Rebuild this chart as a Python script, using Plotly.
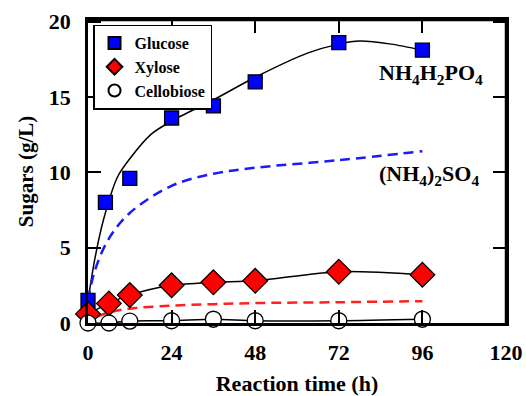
import plotly.graph_objects as go

# Measured data (NH4H2PO4)
t_glu = [0, 5, 12, 24, 36, 48, 72, 96]
glucose = [1.5, 8.0, 9.6, 13.6, 14.4, 16.0, 18.6, 18.1]
t_xyl = [0, 6, 12, 24, 36, 48, 72, 96]
xylose = [0.6, 1.3, 1.85, 2.5, 2.7, 2.8, 3.4, 3.2]
t_cel = [0, 6, 12, 24, 36, 48, 72, 96]
cellobiose = [0.0, 0.0, 0.13, 0.15, 0.25, 0.15, 0.15, 0.25]

# Fitted curve through glucose (NH4H2PO4)
t_glu_fit = [0, 2, 4.5, 8.5, 12, 18, 24, 36, 48, 63, 72, 78, 87, 96]
glucose_fit = [1.5, 4.3, 6.9, 9.7, 10.9, 12.5, 13.4, 14.8, 16.3, 17.9, 18.5, 18.7, 18.5, 18.1]

# Model curves ((NH4)2SO4)
t_as = [0, 2, 6, 12, 24, 36, 48, 72, 96]
glucose_as = [1.5, 3.5, 5.6, 7.3, 9.1, 9.9, 10.3, 10.8, 11.4]
t_as_x = [2.5, 6, 12, 24, 36, 48, 72, 96]
xylose_as = [0.4, 0.7, 0.95, 1.15, 1.25, 1.32, 1.38, 1.45]

x_ticks = [0, 24, 48, 72, 96, 120]
y_ticks = [0, 5, 10, 15, 20]
x_range = [0, 120]
y_range = [0, 20.1]

FONT = "Liberation Serif"

fig = go.Figure()

# top/right frame along the axis ranges
fig.add_trace(go.Scatter(x=[x_range[0], x_range[1], x_range[1]],
                         y=[y_range[1], y_range[1], y_range[0]],
                         mode="lines", showlegend=False, hoverinfo="skip",
                         line=dict(color="black", width=2.5), cliponaxis=False))

fig.add_trace(go.Scatter(x=t_glu_fit, y=glucose_fit, mode="lines", showlegend=False,
                         line=dict(color="black", width=1.5, shape="spline", smoothing=0.8),
                         hoverinfo="skip"))
fig.add_trace(go.Scatter(x=t_xyl, y=xylose, mode="lines", showlegend=False,
                         line=dict(color="black", width=1.5, shape="spline", smoothing=0.8),
                         hoverinfo="skip"))
fig.add_trace(go.Scatter(x=t_cel, y=cellobiose, mode="lines", showlegend=False,
                         line=dict(color="black", width=1.5, shape="spline", smoothing=0.8),
                         hoverinfo="skip", cliponaxis=False))

fig.add_trace(go.Scatter(x=t_as, y=glucose_as, mode="lines", showlegend=False,
                         line=dict(color="#1a1aff", width=2.5, dash="10px,6px", shape="spline")))
fig.add_trace(go.Scatter(x=t_as_x, y=xylose_as, mode="lines", showlegend=False,
                         line=dict(color="#ff2020", width=2.5, dash="10px,6px", shape="spline")))

fig.add_trace(go.Scatter(x=t_glu, y=glucose, mode="markers", name="<b>Glucose</b>",
                         marker=dict(symbol="square", size=14, color="#0000ff",
                                     line=dict(color="black", width=1.3)), cliponaxis=False))
fig.add_trace(go.Scatter(x=t_xyl, y=xylose, mode="markers", name="<b>Xylose</b>",
                         marker=dict(symbol="diamond", size=19, color="#ff0000",
                                     line=dict(color="black", width=1.3)), cliponaxis=False))
fig.add_trace(go.Scatter(x=t_cel, y=cellobiose, mode="markers", name="<b>Cellobiose</b>",
                         marker=dict(symbol="circle", size=16, color="white",
                                     line=dict(color="black", width=1.3)), cliponaxis=False))

fig.add_annotation(x=98.5, y=16.5, text="<b>NH<sub>4</sub>H<sub>2</sub>PO<sub>4</sub></b>",
                   showarrow=False, font=dict(family=FONT, size=22, color="black"))
fig.add_annotation(x=98, y=9.8, text="<b>(NH<sub>4</sub>)<sub>2</sub>SO<sub>4</sub></b>",
                   showarrow=False, font=dict(family=FONT, size=22, color="black"))

axis_common = dict(showline=True, linecolor="black", linewidth=2.5, mirror="ticks",
                   ticks="inside", ticklen=13, tickwidth=1.5, tickcolor="black",
                   showgrid=False, zeroline=False, automargin=False,
                   tickfont=dict(family=FONT, size=22, color="black"))

fig.update_layout(
    width=526, height=396,
    margin=dict(l=88, r=20, t=20, b=73),
    paper_bgcolor="white", plot_bgcolor="white",
    font=dict(family=FONT, color="black"),
    xaxis=dict(range=x_range, tickvals=x_ticks,
               ticktext=["<b>%d</b>" % v for v in x_ticks],
               ticklabelstandoff=8,
               title=dict(text="<b>Reaction time (h)</b>", font=dict(family=FONT, size=22), standoff=14),
               **axis_common),
    yaxis=dict(range=y_range, tickvals=y_ticks,
               ticktext=["<b>%d</b>" % v for v in y_ticks],
               ticklabelstandoff=10,
               title=dict(text="<b>Sugars (g/L)</b>", font=dict(family=FONT, size=21), standoff=10),
               **axis_common),
    legend=dict(x=0.012, y=0.985, xanchor="left", yanchor="top",
                bgcolor="white", bordercolor="black", borderwidth=1.5,
                font=dict(family=FONT, size=16, color="black"),
                itemwidth=30, itemsizing="constant", tracegroupgap=0),
)

fig.write_html("out.html", config={"displayModeBar": False},
               post_script="document.body.style.margin='0';")
